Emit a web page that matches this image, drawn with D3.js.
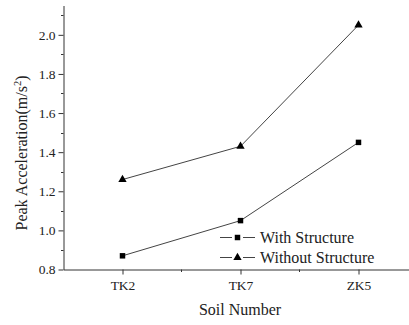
<!DOCTYPE html>
<html>
<head>
<meta charset="utf-8">
<script src="https://cdn.jsdelivr.net/npm/d3@7"></script>
<style>
  html, body { margin: 0; padding: 0; background: #fff; }
  svg { display: block; }
</style>
</head>
<body>
<svg id="chart" width="409" height="325"></svg>
<script>
// Soil sites and peak ground acceleration (m/s^2)
const categories = ["TK2", "TK7", "ZK5"];
const withStructure = [0.87, 1.05, 1.45];
const withoutStructure = [1.26, 1.43, 2.05];
const yTicks = [0.8, 1.0, 1.2, 1.4, 1.6, 1.8, 2.0];
const seriesNames = ["With Structure", "Without Structure"];

const FONT = "'Times New Roman', 'Liberation Serif', Times, serif";
const svg = d3.select("#chart");
const x0 = 63.5, y0 = 269.5, yTop = 5.5;

const x = d3.scaleLinear().domain([-0.5, 2.5]).range([x0, x0 + 354]);
const y = d3.scaleLinear().domain([0.8, 2.15]).range([y0, yTop]);

// y axis: major ticks with labels, minor ticks in between
const yAxis = d3.axisLeft(y).tickValues(yTicks).tickFormat(d3.format(".1f")).tickSizeInner(5).tickSizeOuter(0).tickPadding(3);
const gy = svg.append("g").attr("transform", `translate(${x0},0)`).call(yAxis);
gy.attr("font-family", FONT).attr("font-size", 13.5);
gy.select(".domain").attr("stroke", "#333");
gy.selectAll(".tick line").attr("stroke", "#333");
gy.selectAll("text").attr("fill", "#222");
const yMinor = d3.range(0.9, 2.15, 0.2);
svg.append("g").selectAll("line").data(yMinor).join("line")
  .attr("x1", x0 - 2.5).attr("x2", x0)
  .attr("y1", d => Math.round(y(d)) + 0.5).attr("y2", d => Math.round(y(d)) + 0.5)
  .attr("stroke", "#333");

// x axis
const xAxis = d3.axisBottom(x).tickValues([0, 1, 2]).tickFormat(i => categories[i]).tickSizeInner(5).tickSizeOuter(0).tickPadding(6);
const gx = svg.append("g").attr("transform", `translate(0,${y0})`).call(xAxis);
gx.attr("font-family", FONT).attr("font-size", 13.5);
gx.select(".domain").attr("stroke", "#333");
gx.selectAll(".tick line").attr("stroke", "#333");
gx.selectAll("text").attr("fill", "#222");
svg.append("g").selectAll("line").data([0.5, 1.5]).join("line")
  .attr("x1", d => x(d)).attr("x2", d => x(d))
  .attr("y1", y0).attr("y2", y0 + 2.5)
  .attr("stroke", "#333");

// axis titles
svg.append("text").attr("x", 240).attr("y", 315).attr("text-anchor", "middle")
  .attr("font-family", FONT).attr("font-size", 16).attr("fill", "#222").text("Soil Number");
const yl = svg.append("text").attr("transform", "translate(27,153) rotate(-90)")
  .attr("text-anchor", "middle").attr("font-family", FONT).attr("font-size", 16).attr("fill", "#222");
yl.append("tspan").text("Peak Acceleration(m/s");
yl.append("tspan").attr("dy", -6).attr("font-size", 10.5).text("2");
yl.append("tspan").attr("dy", 6).text(")");

// series lines and markers
const line = d3.line().x((d, i) => x(i)).y(d => y(d));
const tri = d3.symbol().type(d3.symbolTriangle).size(30);
const sq = d3.symbol().type(d3.symbolSquare).size(30);

[[withStructure, sq], [withoutStructure, tri]].forEach(([vals, sym]) => {
  svg.append("path").datum(vals).attr("d", line)
    .attr("fill", "none").attr("stroke", "#444").attr("stroke-width", 1);
  svg.append("g").selectAll("path").data(vals).join("path")
    .attr("d", sym).attr("transform", (d, i) => `translate(${x(i)},${y(d)})`)
    .attr("fill", "#000");
});

// legend
const legend = svg.append("g");
[sq, tri].forEach((sym, k) => {
  const ly = 237.5 + k * 20;
  legend.append("line").attr("x1", 220).attr("x2", 232).attr("y1", ly).attr("y2", ly).attr("stroke", "#444");
  legend.append("line").attr("x1", 243).attr("x2", 255).attr("y1", ly).attr("y2", ly).attr("stroke", "#444");
  legend.append("path").attr("d", sym).attr("transform", `translate(237.5,${ly})`).attr("fill", "#000");
  legend.append("text").attr("x", 260).attr("y", ly + 5).attr("font-family", FONT).attr("font-size", 16)
    .attr("fill", "#222").text(seriesNames[k]);
});
</script>
</body>
</html>
